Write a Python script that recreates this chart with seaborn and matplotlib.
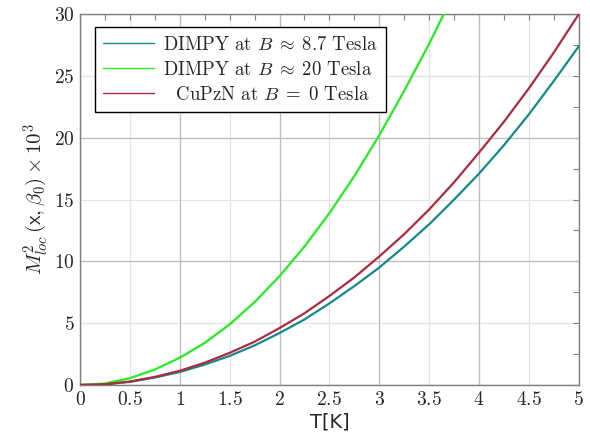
import numpy as np
import pandas as pd
import matplotlib
matplotlib.use("Agg")
import matplotlib.pyplot as plt
import seaborn as sns
from matplotlib.ticker import MultipleLocator, FuncFormatter

# ── Date ──────────────────────────────────────────────────────────────────────

T_VALORI = [0, 0.25, 0.5, 0.75, 1, 1.25, 1.5, 1.75, 2, 2.25, 2.5, 2.75, 3,
            3.25, 3.5, 3.75, 4, 4.25, 4.5, 4.75, 5]

DIMPY_87 = [0, 0.05, 0.25, 0.6, 1.05, 1.65, 2.35, 3.2, 4.2, 5.3, 6.6, 8.0, 9.5,
            11.2, 13.0, 15.0, 17.1, 19.4, 21.9, 24.6, 27.4]
DIMPY_20 = [0, 0.12, 0.55, 1.25, 2.2, 3.4, 4.9, 6.7, 8.8, 11.2, 13.9, 16.9, 20.2,
            23.8, 27.6, 31.7]
CUPZN_0 = [0, 0.06, 0.28, 0.65, 1.15, 1.8, 2.6, 3.5, 4.6, 5.8, 7.2, 8.7, 10.4,
           12.2, 14.2, 16.4, 18.8, 21.3, 24.0, 26.9, 30.0]

ETICHETE = [r"DIMPY at $B \;\approx\; 8.7$ Tesla",
            r"DIMPY at $B \;\approx\; 20$ Tesla",
            r"  CuPzN at $B \;=\; 0$ Tesla"]
CULORI = ["#138a8c", "#22ee22", "#b02a3e"]
X_TICKS = [0, 0.5, 1, 1.5, 2, 2.5, 3, 3.5, 4, 4.5, 5]
Y_TICKS = [0, 5, 10, 15, 20, 25, 30]

# ── Tabel ─────────────────────────────────────────────────────────────────────

serii = [DIMPY_87, DIMPY_20, CUPZN_0]
cadre = []
for eticheta, valori in zip(ETICHETE, serii):
    cadre.append(pd.DataFrame({"T": T_VALORI[:len(valori)], "M": valori,
                               "serie": eticheta}))
df = pd.concat(cadre, ignore_index=True)

# ── Vizualizare ───────────────────────────────────────────────────────────────

sns.set_style("white")
plt.rcParams["mathtext.fontset"] = "cm"
plt.rcParams["font.family"] = ["cmr10", "DejaVu Serif"]
plt.rcParams["axes.formatter.use_mathtext"] = True

fig = plt.figure(figsize=(5.9, 4.43), dpi=100)
ax = fig.add_axes([0.1356, 0.131, 0.8454, 0.837])

sns.lineplot(data=df, x="T", y="M", hue="serie", hue_order=ETICHETE,
             palette=CULORI, linewidth=1.6, ax=ax, zorder=3)

ax.set_xlim(X_TICKS[0], X_TICKS[-1])
ax.set_ylim(Y_TICKS[0], Y_TICKS[-1])
ax.set_xticks(X_TICKS)
ax.set_yticks(Y_TICKS)
ax.xaxis.set_minor_locator(MultipleLocator(0.25))
ax.yaxis.set_minor_locator(MultipleLocator(2.5))
ax.xaxis.set_major_formatter(FuncFormatter(lambda v, p: f"${v:g}$"))
ax.yaxis.set_major_formatter(FuncFormatter(lambda v, p: f"${v:g}$"))

# grila: linii deschise la fiecare tick, mai închise la valori întregi / multipli de 10
ax.grid(True, which="major", color="#e4e4e4", linewidth=0.9, zorder=0)
for v in X_TICKS:
    if float(v).is_integer():
        ax.axvline(v, color="#bcbcbc", linewidth=0.9, zorder=1)
for v in Y_TICKS:
    if v % 10 == 0:
        ax.axhline(v, color="#bcbcbc", linewidth=0.9, zorder=1)
ax.set_axisbelow(True)

ax.tick_params(which="both", direction="in", top=True, right=True,
               color="#808080", labelsize=14)
ax.tick_params(which="major", length=4, width=0.8, pad=4)
ax.tick_params(which="minor", length=4, width=0.8)
for s in ax.spines.values():
    s.set_color("#7f7f7f")
    s.set_linewidth(1.0)

ax.set_xlabel("T[K]", family="DejaVu Sans", fontsize=14, labelpad=3)
ax.set_ylabel(r"$M^2_{loc}\,(\mathsf{x},\beta_0)\times10^3$", fontsize=15,
              labelpad=3)

leg = ax.legend(loc="upper left", bbox_to_anchor=(0.03, 0.965), fontsize=13.5,
                frameon=True, fancybox=False, edgecolor="black",
                handlelength=2.7, borderpad=0.45, labelspacing=0.38,
                handletextpad=0.5, borderaxespad=0)
leg.get_frame().set_linewidth(1.0)
leg.get_frame().set_alpha(1)
for linie in leg.get_lines():
    linie.set_linewidth(1.0)

plt.savefig("out.png", dpi=100)
